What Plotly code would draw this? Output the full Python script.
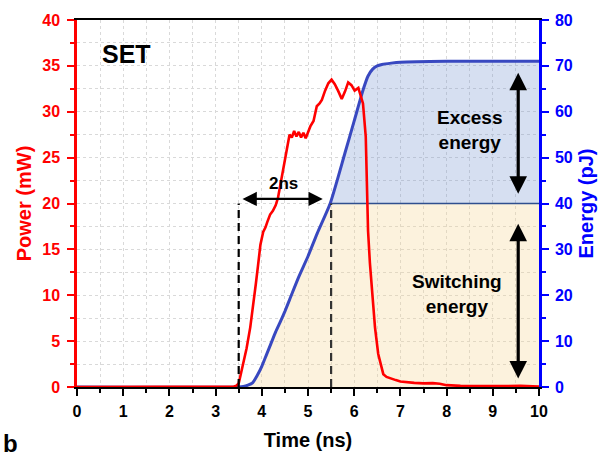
import plotly.graph_objects as go

# ---- data ----
t_power = [0, 1, 2, 3, 3.4, 3.45, 3.5, 3.55, 3.6, 3.67, 3.75, 3.82, 3.87, 3.92, 3.97, 4.03,
           4.08, 4.12, 4.18, 4.24, 4.3, 4.35, 4.4, 4.45, 4.5, 4.55, 4.6, 4.65, 4.7, 4.75,
           4.8, 4.85, 4.9, 4.95, 5.0, 5.05, 5.12, 5.19, 5.25, 5.3, 5.37, 5.44, 5.51, 5.58,
           5.65, 5.73, 5.8, 5.87, 5.94, 6.01, 6.09, 6.13, 6.19, 6.25, 6.28, 6.3, 6.34, 6.38,
           6.45, 6.52, 6.58, 6.63, 6.7, 6.8, 6.9, 7.0, 7.15, 7.3, 7.5, 7.7, 7.85, 8.0, 8.3,
           8.6, 9.0, 9.3, 9.6, 10]
power = [0, 0, 0, 0, 0.05, 0.15, 0.4, 1.5, 2.6, 4.2, 6.5, 9.0, 11.2, 13.3, 15.5, 16.9,
         17.4, 18.0, 18.8, 19.2, 19.8, 20.6, 22.0, 23.6, 25.0, 26.4, 27.5, 27.2, 27.9, 27.3,
         27.8, 27.2, 27.7, 27.1, 27.8, 28.4, 29.0, 30.6, 30.9, 31.3, 32.3, 33.1, 33.5, 33.0,
         32.3, 31.4, 32.2, 33.2, 32.9, 32.3, 32.6, 31.9, 30.9, 27.3, 21.9, 17.0, 13.5, 10.8,
         6.5, 3.6, 2.2, 1.4, 1.1, 0.9, 0.75, 0.6, 0.5, 0.45, 0.4, 0.42, 0.35, 0.2, 0.12,
         0.1, 0.15, 0.1, 0.12, 0.05]

t_energy = [0, 3.5, 3.6, 3.7, 3.8, 3.9, 4.0, 4.1, 4.2, 4.3, 4.4, 4.5, 4.6, 4.8, 5.0, 5.2,
            5.48, 5.8, 6.0, 6.2, 6.3, 6.4, 6.5, 6.6, 6.8, 7.0, 8.0, 9.0, 10]
energy = [0, 0, 0.1, 0.4, 0.9, 2.5, 4.5, 7.0, 9.5, 12.0, 14.2, 16.5, 19.0, 24.0, 28.5, 33.5,
          40.0, 51.0, 58.0, 65.0, 67.8, 69.3, 70.0, 70.3, 70.6, 70.8, 71.0, 71.0, 71.0]

switch_threshold = 40.0      # pJ
t_start, t_switch = 3.5, 5.5  # ns
x_ticks = list(range(0, 11))
power_ticks = [0, 5, 10, 15, 20, 25, 30, 35, 40]
energy_ticks = [0, 10, 20, 30, 40, 50, 60, 70, 80]

FONT = "Arial, Liberation Sans, sans-serif"
RED = "#ff0000"
BLUE = "#0000ff"
ECURVE = "#3848c0"

fig = go.Figure()

# switching energy fill (orange), on energy axis (base y)
sw_x = [t for t in t_energy if t >= t_start]
sw_y = [min(e, switch_threshold) for t, e in zip(t_energy, energy) if t >= t_start]
fig.add_trace(go.Scatter(x=sw_x, y=sw_y, mode="lines", line=dict(width=0, shape="spline", smoothing=0.6),
                         fill="tozeroy", fillcolor="rgba(245,215,150,0.32)",
                         hoverinfo="skip", showlegend=False, yaxis="y"))

# excess energy fill (blue)
ex_x = [t for t in t_energy if t >= 5.48]
ex_base = [switch_threshold for _ in ex_x]
ex_y = [e for t, e in zip(t_energy, energy) if t >= 5.48]
fig.add_trace(go.Scatter(x=ex_x, y=ex_base, mode="lines",
                         line=dict(color="#2f4f8f", width=1.5),
                         hoverinfo="skip", showlegend=False, yaxis="y"))
fig.add_trace(go.Scatter(x=ex_x, y=ex_y, mode="lines", line=dict(width=0, shape="spline", smoothing=0.6),
                         fill="tonexty", fillcolor="rgba(120,150,210,0.3)",
                         hoverinfo="skip", showlegend=False, yaxis="y"))

# energy curve
fig.add_trace(go.Scatter(x=t_energy, y=energy, mode="lines",
                         line=dict(color=ECURVE, width=3, shape="spline", smoothing=0.6),
                         showlegend=False, yaxis="y"))

# dashed markers
fig.add_trace(go.Scatter(x=[t_switch, t_switch], y=[0, switch_threshold], mode="lines",
                         line=dict(color="#333333", width=2.2, dash="8px,5px"),
                         showlegend=False, yaxis="y"))

# power curve (overlay axis, left)
fig.add_trace(go.Scatter(x=t_power, y=power, mode="lines",
                         line=dict(color=RED, width=2.6), showlegend=False, yaxis="y2"))
fig.add_trace(go.Scatter(x=[t_start, t_start], y=[0, 20], mode="lines",
                         line=dict(color="#000000", width=2.2, dash="8px,5px"),
                         showlegend=False, yaxis="y2"))

tickfont = dict(family=FONT, size=16, weight="bold")
GRID = "#d9d9d9"

fig.update_layout(
    width=613, height=460,
    margin=dict(l=77, r=74, t=16, b=73),
    plot_bgcolor="white", paper_bgcolor="white",
    xaxis=dict(range=[0, 10], tickvals=x_ticks, showline=True, linecolor="black", linewidth=2,
               mirror=True, ticks="outside", ticklen=7, tickwidth=2, tickcolor="black",
               tickfont=dict(tickfont, color="black"), ticklabelstandoff=2,
               showgrid=True, gridcolor=GRID, griddash="dot", gridwidth=1,
               minor=dict(dtick=0.5, ticks="outside", ticklen=4, tickwidth=2, tickcolor="black",
                          showgrid=True, gridcolor=GRID, griddash="dot"),
               zeroline=False,
               title=dict(text="Time (ns)", font=dict(family=FONT, size=20, weight="bold", color="black"),
                          standoff=14)),
    yaxis=dict(range=[0, 80], tickvals=energy_ticks, side="right", showline=True, linecolor=BLUE,
               linewidth=2.5, ticks="outside", ticklen=7, tickwidth=2, tickcolor=BLUE,
               tickfont=dict(tickfont, color=BLUE), ticklabelstandoff=3,
               showgrid=True, gridcolor=GRID, griddash="dot",
               minor=dict(dtick=5, ticks="outside", ticklen=4, tickwidth=2, tickcolor=BLUE,
                          showgrid=True, gridcolor=GRID, griddash="dot"),
               zeroline=False,
               title=dict(text="Energy (pJ)", font=dict(family=FONT, size=20, weight="bold", color=BLUE),
                          standoff=8)),
    yaxis2=dict(range=[0, 40], tickvals=power_ticks, side="left", overlaying="y", showline=True,
                linecolor=RED, linewidth=2.5, ticks="outside", ticklen=7, tickwidth=2, tickcolor=RED,
                tickfont=dict(tickfont, color=RED), ticklabelstandoff=4, showgrid=False, zeroline=False,
                minor=dict(dtick=2.5, ticks="outside", ticklen=4, tickwidth=2, tickcolor=RED),
                title=dict(text="Power (mW)", font=dict(family=FONT, size=20, weight="bold", color=RED),
                           standoff=6)),
)

annots = [
    dict(x=1.08, y=36.3, xref="x", yref="y2", text="SET", showarrow=False,
         font=dict(family=FONT, size=25, weight="bold", color="black")),
    dict(x=4.47, y=22.2, xref="x", yref="y2", text="2ns", showarrow=False,
         font=dict(family=FONT, size=17, weight="bold", color="black")),
    dict(x=8.5, y=56, xref="x", yref="y", text="Excess<br>energy", showarrow=False,
         font=dict(family=FONT, size=19, weight="bold", color="black")),
    dict(x=8.22, y=20.3, xref="x", yref="y", text="Switching<br>energy", showarrow=False,
         font=dict(family=FONT, size=19, weight="bold", color="black")),
    # 2ns double arrow
    dict(x=5.32, y=20.5, ax=3.55, ay=20.5, xref="x", yref="y2", axref="x", ayref="y2", text="",
         showarrow=True, arrowhead=2, arrowside="end+start", arrowsize=1.3, arrowwidth=2.2,
         arrowcolor="black"),
    # excess energy arrow
    dict(x=9.55, y=68.5, ax=9.55, ay=41.8, xref="x", yref="y", axref="x", ayref="y", text="",
         showarrow=True, arrowhead=2, arrowside="end+start", arrowsize=1.1, arrowwidth=3.2,
         arrowcolor="black"),
    # switching energy arrow
    dict(x=9.55, y=35.6, ax=9.55, ay=1.5, xref="x", yref="y", axref="x", ayref="y", text="",
         showarrow=True, arrowhead=2, arrowside="end+start", arrowsize=1.1, arrowwidth=3.2,
         arrowcolor="black"),
    dict(x=0.0, y=0.0, xref="paper", yref="paper", xanchor="left", yanchor="bottom",
         text="b", showarrow=False, xshift=-76, yshift=-72,
         font=dict(family=FONT, size=24, weight="bold", color="black")),
]
fig.update_layout(annotations=annots)

fig.write_html("out.html")
